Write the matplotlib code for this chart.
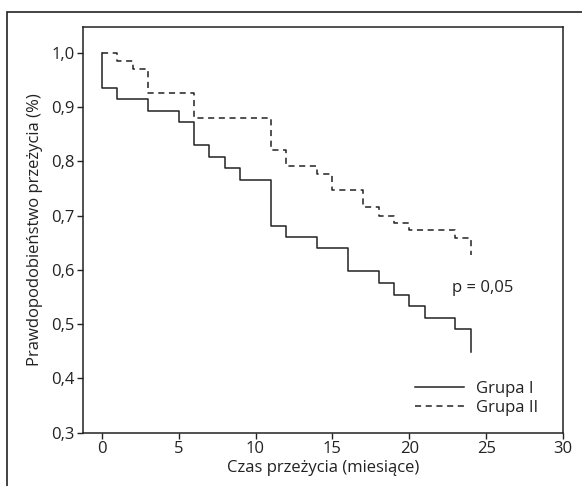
import matplotlib.pyplot as plt
from matplotlib.patches import Rectangle

plt.rcParams['font.family'] = ['Open Sans', 'DejaVu Sans']

# Grupa I (linia ciągła)
czas_1 = [0, 0, 1, 3, 5, 6, 7, 8, 9, 11, 12, 14, 16, 18, 19, 20, 21, 23, 24, 24]
przez_1 = [1.0, 0.935, 0.915, 0.893, 0.872, 0.830, 0.809, 0.787, 0.765, 0.681,
           0.661, 0.640, 0.597, 0.575, 0.554, 0.533, 0.511, 0.490, 0.490, 0.448]

# Grupa II (linia przerywana)
czas_2 = [0, 1, 2, 3, 6, 11, 12, 14, 15, 17, 18, 19, 20, 23, 24, 24]
przez_2 = [1.0, 0.985, 0.970, 0.927, 0.880, 0.821, 0.792, 0.777, 0.747, 0.716,
           0.700, 0.687, 0.673, 0.659, 0.659, 0.628]

x_ticks = [0, 5, 10, 15, 20, 25, 30]
y_ticks = [0.3, 0.4, 0.5, 0.6, 0.7, 0.8, 0.9, 1.0]

fig = plt.figure(figsize=(5.82, 4.86), dpi=100)
ax = fig.add_axes([83 / 582, 1 - 432.5 / 486, 480 / 582, 405.5 / 486])

kolor = "#222222"
ax.step(czas_1, przez_1, where="post", color=kolor, lw=1.1, label="Grupa I")
ax.step(czas_2, przez_2, where="post", color=kolor, lw=1.1, ls=(0, (4, 3)), label="Grupa II")

ax.set_xlim(-1.22, 30)
ax.set_ylim(0.3, 1.048)
ax.set_xticks(x_ticks)
ax.set_yticks(y_ticks)
ax.set_yticklabels([f"{v:.1f}".replace(".", ",") for v in y_ticks])
ax.tick_params(direction="out", length=4, width=1, colors=kolor, labelsize=12, pad=2)
for s in ax.spines.values():
    s.set_linewidth(1.1)
    s.set_color(kolor)

ax.set_xlabel("Czas przeżycia (miesiące)", fontsize=12, color=kolor, labelpad=2)
ax.set_ylabel("Prawdopodobieństwo przeżycia (%)", fontsize=12, color=kolor, labelpad=6)

ax.text(22.75, 0.567, "p = 0,05", fontsize=12, color=kolor, va="center", ha="left")

ax.legend(loc="upper left", bbox_to_anchor=(415 / 582, 1 - 381 / 486),
          bbox_transform=fig.transFigure, frameon=False, fontsize=12,
          handlelength=2.95, handletextpad=0.7, labelspacing=0.15, borderpad=0,
          borderaxespad=0, labelcolor=kolor)

# ramka wokół całego rysunku
fig.patches.append(Rectangle((7 / 582, -0.1), 1.2, 1.1 - 12 / 486, transform=fig.transFigure,
                             fill=False, edgecolor=kolor, lw=1.2))

fig.savefig("out.png", dpi=100)
